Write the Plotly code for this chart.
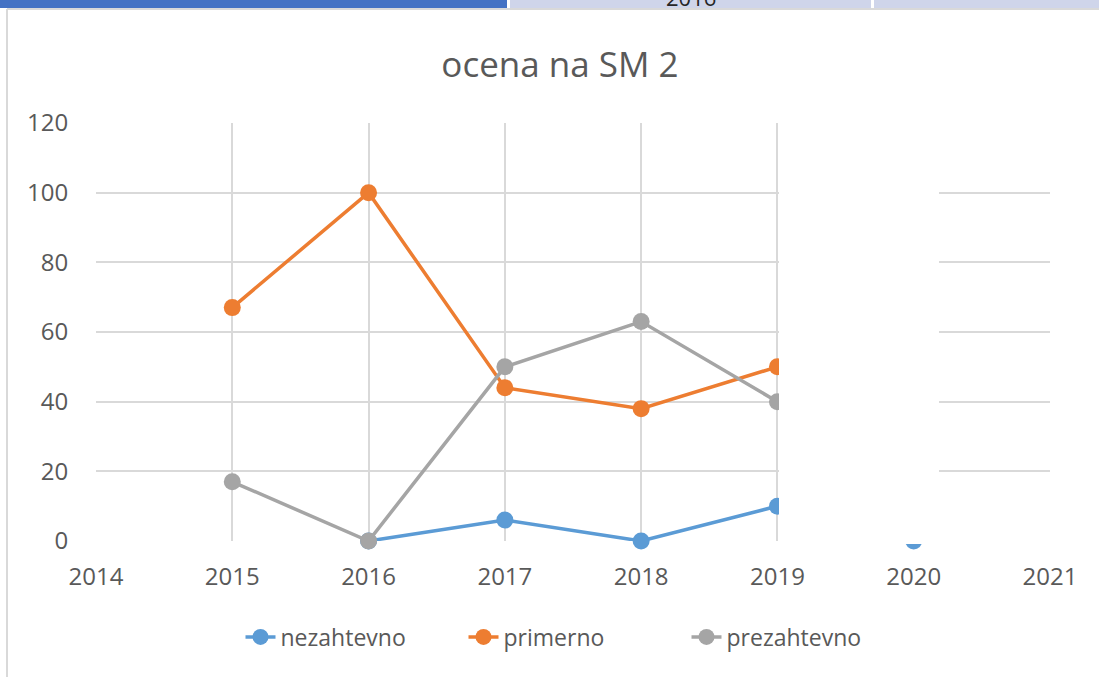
"""Excel-style line chart: ocena na SM 2."""

import plotly.graph_objects as go

years = [2015, 2016, 2017, 2018, 2019, 2020]
nezahtevno = [None, 0, 6, 0, 10, 0]
primerno = [67, 100, 44, 38, 50, None]
prezahtevno = [17, 0, 50, 63, 40, None]

series = [
    ("nezahtevno", nezahtevno, "#5B9BD5"),
    ("primerno", primerno, "#ED7D31"),
    ("prezahtevno", prezahtevno, "#A5A5A5"),
]

x_ticks = list(range(2014, 2022))
y_ticks = [0, 20, 40, 60, 80, 100, 120]

FONT = "Open Sans"
TEXT = "#595959"
GRID = "#D9D9D9"

fig = go.Figure()
for name, values, color in series:
    fig.add_trace(
        go.Scatter(
            x=years,
            y=values,
            name=name,
            mode="lines+markers",
            line={"color": color, "width": 3.5},
            marker={"color": color, "size": 17},
            connectgaps=False,
            cliponaxis=False,
        )
    )


# plot area in pixels: x 96..1050, y 123..541
def px_x(px):
    return (px - 96) / 954


def px_y(py):
    return (541 - py) / 418


shapes = [
    # white patch hiding part of the chart (as in the screenshot)
    dict(type="rect", xref="paper", yref="paper", layer="above",
         x0=px_x(779), x1=px_x(939), y0=px_y(544), y1=px_y(100),
         fillcolor="white", line={"width": 0}),
    # spreadsheet strip at the top
    dict(type="rect", xref="paper", yref="paper", layer="above",
         x0=px_x(-2), x1=px_x(507), y0=px_y(8), y1=px_y(-2),
         fillcolor="#4472C4", line={"width": 0}),
    dict(type="rect", xref="paper", yref="paper", layer="above",
         x0=px_x(510), x1=px_x(871), y0=px_y(8), y1=px_y(-2),
         fillcolor="#CFD5EA", line={"width": 0}),
    dict(type="rect", xref="paper", yref="paper", layer="above",
         x0=px_x(874), x1=px_x(1102), y0=px_y(8), y1=px_y(-2),
         fillcolor="#CFD5EA", line={"width": 0}),
    # chart frame edges
    dict(type="line", xref="paper", yref="paper", layer="above",
         x0=px_x(7), x1=px_x(1102), y0=px_y(9), y1=px_y(9),
         line={"color": "#D9D9D9", "width": 2}),
    dict(type="line", xref="paper", yref="paper", layer="above",
         x0=px_x(7), x1=px_x(7), y0=px_y(9), y1=px_y(680),
         line={"color": "#D9D9D9", "width": 2}),
]

fig.update_layout(
    width=1099,
    height=677,
    margin={"l": 96, "r": 49, "t": 123, "b": 136},
    paper_bgcolor="white",
    plot_bgcolor="white",
    font={"family": FONT, "color": TEXT, "size": 23},
    title={
        "text": "ocena na SM 2",
        "font": {"family": FONT, "size": 35, "color": TEXT},
        "x": 560 / 1099,
        "xanchor": "center",
        "y": 1 - 65 / 677,
        "yanchor": "middle",
    },
    showlegend=True,
    legend={
        "orientation": "h",
        "x": px_x(575),
        "xanchor": "center",
        "y": px_y(637),
        "yanchor": "middle",
        "font": {"family": FONT, "size": 23, "color": TEXT},
        "entrywidth": 178,
    },
    shapes=shapes,
    annotations=[
        dict(text="2016", xref="paper", yref="paper", x=px_x(691),
             y=px_y(14), xanchor="center", yanchor="bottom", showarrow=False,
             font={"family": FONT, "size": 22, "color": "#262626"}),
    ],
)

fig.update_xaxes(
    range=[2014, 2021],
    tickvals=x_ticks,
    ticktext=[str(t) for t in x_ticks],
    showgrid=True,
    gridcolor=GRID,
    gridwidth=2,
    zeroline=False,
    showline=False,
    ticks="outside",
    ticklen=14,
    tickcolor="rgba(0,0,0,0)",
    tickfont={"family": FONT, "size": 24, "color": TEXT},
)
fig.update_yaxes(
    range=[0, 120],
    tickvals=y_ticks,
    showgrid=True,
    gridcolor=GRID,
    gridwidth=2,
    zeroline=False,
    showline=False,
    ticks="outside",
    ticklen=22,
    tickcolor="rgba(0,0,0,0)",
    tickfont={"family": FONT, "size": 24, "color": TEXT},
)

# the page has a default body margin; drop it so the chart sits at (0, 0)
fig.write_html(
    "out.html",
    config={"displayModeBar": False},
    post_script="document.body.style.margin = '0';",
)
